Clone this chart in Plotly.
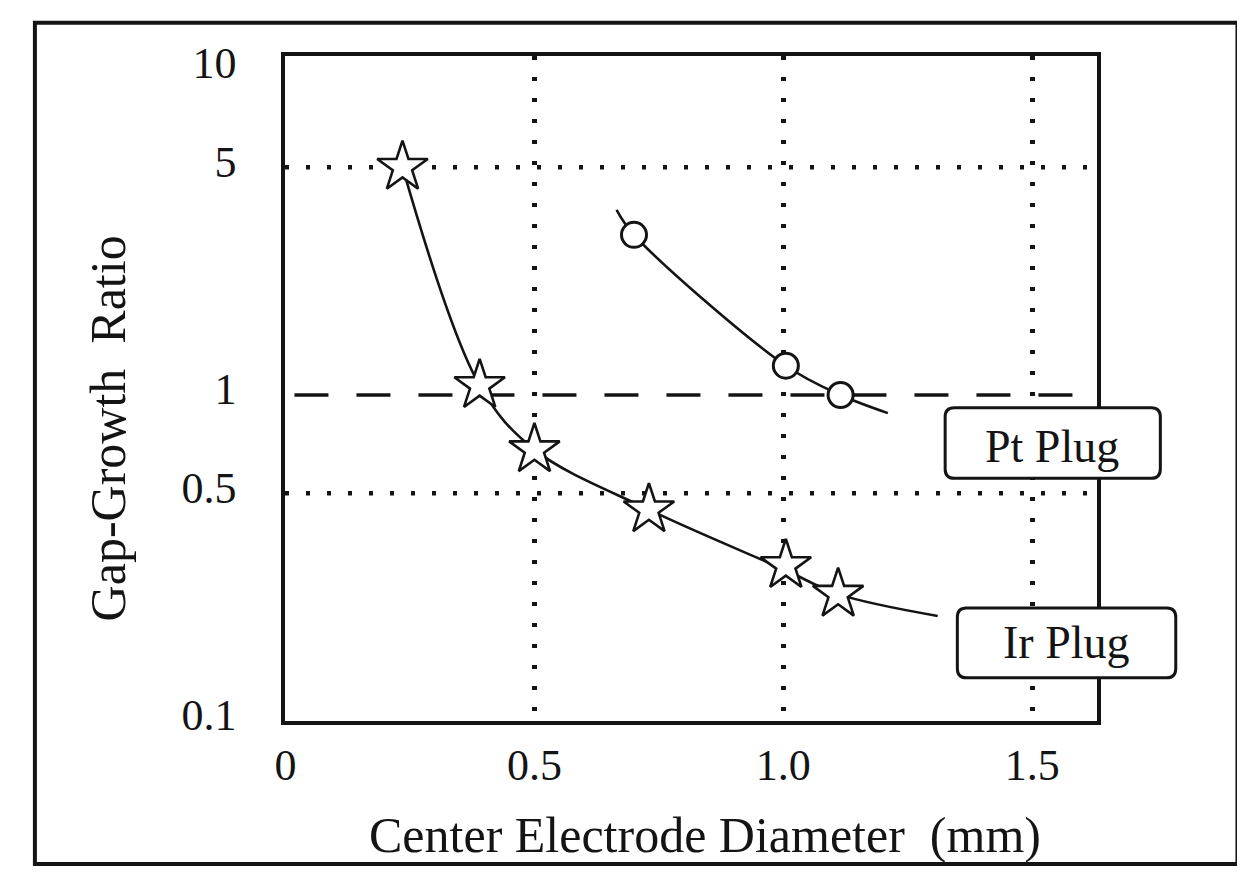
import plotly.graph_objects as go

# ---- data ----
ir_x = [0.235, 0.39, 0.50, 0.73, 1.005, 1.11]
ir_y = [5.0, 1.07, 0.68, 0.445, 0.30, 0.245]
ir_curve_x = [0.235, 0.39, 0.50, 0.73, 1.005, 1.11, 1.31]
ir_curve_y = [5.0, 1.07, 0.68, 0.445, 0.29, 0.245, 0.21]

pt_x = [0.70, 1.005, 1.115]
pt_y = [3.1, 1.23, 1.0]
pt_curve_x = [0.665, 0.70, 1.005, 1.115, 1.21]
pt_curve_y = [3.7, 3.1, 1.23, 1.0, 0.88]

x_tickvals = [0, 0.5, 1.0, 1.5]
x_ticktext = ["0", "0.5", "1.0", "1.5"]
y_tickvals = [0.1, 0.5, 1, 5, 10]
y_ticktext = ["0.1", "0.5", "1", "5", "10"]
y_dotted_lines = [5, 0.5]
y_dashed_line = 1
dashed_x_span = [0.018, 1.616]

x_title = "Center Electrode Diameter\u00a0\u00a0(mm)"
y_title = "Gap-Growth\u00a0\u00a0Ratio"
pt_label = "Pt Plug"
ir_label = "Ir Plug"

FONT = "Liberation Serif, Times New Roman, serif"
INK = "#141414"

fig = go.Figure()

fig.add_trace(go.Scatter(x=ir_curve_x, y=ir_curve_y, mode="lines",
                         line=dict(color=INK, width=2.6, shape="spline", smoothing=1.0),
                         hoverinfo="skip", showlegend=False))
fig.add_trace(go.Scatter(x=pt_curve_x, y=pt_curve_y, mode="lines",
                         line=dict(color=INK, width=2.6, shape="spline", smoothing=1.0),
                         hoverinfo="skip", showlegend=False))
fig.add_trace(go.Scatter(x=ir_x, y=ir_y, mode="markers", name=ir_label,
                         marker=dict(symbol="star", size=38, color="white",
                                     line=dict(color=INK, width=2.6)),
                         showlegend=False))
fig.add_trace(go.Scatter(x=pt_x, y=pt_y, mode="markers", name=pt_label,
                         marker=dict(symbol="circle", size=25, color="white",
                                     line=dict(color=INK, width=3)),
                         showlegend=False))

dot = dict(color=INK, width=4.5, dash="4px,17px")
for yv in y_dotted_lines:
    fig.add_shape(type="line", xref="paper", yref="y", x0=0, x1=1,
                  y0=yv, y1=yv, line=dot, layer="below")
fig.add_shape(type="line", xref="x", yref="y", x0=dashed_x_span[0], x1=dashed_x_span[1],
              y0=y_dashed_line, y1=y_dashed_line,
              line=dict(color=INK, width=3.5, dash="34px,28px"), layer="below")

# outer frame of the figure
fig.add_shape(type="rect", xref="paper", yref="paper",
              x0=-0.308, x1=1.173, y0=-0.215, y1=1.05,
              line=dict(color=INK, width=4), layer="above")


def rounded_box(x0, x1, y0, y1, rx=0.011, ry=0.014):
    return (f"M {x0+rx},{y0} L {x1-rx},{y0} Q {x1},{y0} {x1},{y0+ry} "
            f"L {x1},{y1-ry} Q {x1},{y1} {x1-rx},{y1} "
            f"L {x0+rx},{y1} Q {x0},{y1} {x0},{y1-ry} "
            f"L {x0},{y0+ry} Q {x0},{y0} {x0+rx},{y0} Z")


# label boxes (rounded) with text
boxes = [
    (pt_label, (0.813, 1.078, 0.365, 0.471), (0.945, 0.413)),
    (ir_label, (0.828, 1.097, 0.065, 0.170), (0.963, 0.118)),
]
for txt, (bx0, bx1, by0, by1), (tx, ty) in boxes:
    fig.add_shape(type="path", xref="paper", yref="paper",
                  path=rounded_box(bx0, bx1, by0, by1),
                  fillcolor="white", line=dict(color=INK, width=3), layer="above")
    fig.add_annotation(text=txt, xref="paper", yref="paper", x=tx, y=ty,
                       showarrow=False, xanchor="center", yanchor="middle",
                       font=dict(family=FONT, size=46, color=INK))

# axis titles
fig.add_annotation(text=y_title, textangle=-90, xref="paper", yref="paper",
                   x=-0.218, y=0.44, showarrow=False, xanchor="center", yanchor="middle",
                   font=dict(family=FONT, size=50, color=INK))
fig.add_annotation(text=x_title, xref="paper", yref="paper",
                   x=0.517, y=-0.172, showarrow=False, xanchor="center", yanchor="middle",
                   font=dict(family=FONT, size=50, color=INK))

fig.update_xaxes(range=[-0.001, 1.63], tickvals=x_tickvals, ticktext=x_ticktext,
                 showgrid=True, gridcolor=INK, gridwidth=4.5, griddash="4px,17px",
                 zeroline=False, showline=True, mirror=True, linecolor=INK, linewidth=3.5,
                 ticks="", ticklabelstandoff=2,
                 tickfont=dict(family=FONT, size=44, color=INK))
fig.update_yaxes(type="log", range=[-1.0, 1.04], tickvals=y_tickvals, ticktext=y_ticktext,
                 showgrid=False, zeroline=False, showline=True, mirror=True,
                 linecolor=INK, linewidth=3.5, ticks="", ticklabelstandoff=36,
                 ticklabelshift=-6,
                 tickfont=dict(family=FONT, size=44, color=INK))

# the page body adds an 8px margin, so the figure is drawn 8px smaller/shifted
fig.update_layout(width=1237, height=868, autosize=False,
                  margin=dict(l=277, r=148, t=48, b=155),
                  paper_bgcolor="white", plot_bgcolor="white",
                  font=dict(family=FONT, color=INK), showlegend=False)

fig.write_html("out.html")
